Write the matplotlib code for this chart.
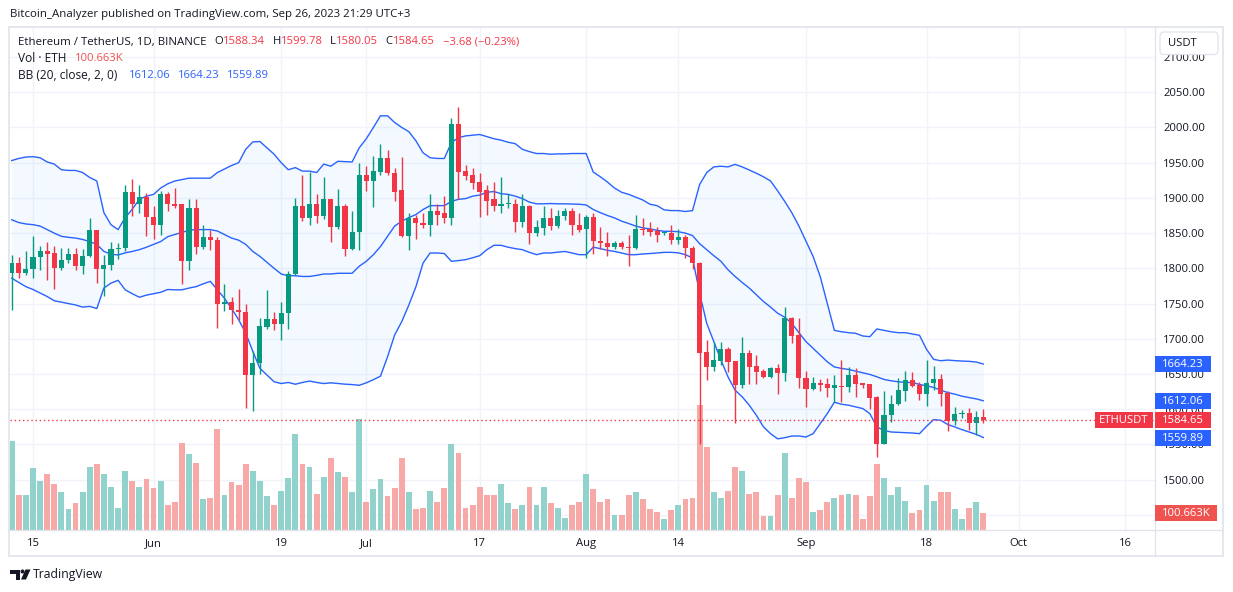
import numpy as np
import pandas as pd
import matplotlib
matplotlib.use('Agg')
import matplotlib.pyplot as plt
import matplotlib.dates as mdates
from matplotlib.patches import Rectangle, FancyBboxPatch, Polygon, Circle
from matplotlib.lines import Line2D
from matplotlib.transforms import IdentityTransform

plt.rcParams['font.family'] = ['Open Sans', 'DejaVu Sans']

# ---------------- data (ETH/USDT daily, from 2023-05-12) ----------------
start_date = '2023-05-12'

opens = [1793, 1807.5, 1794, 1799, 1816, 1824, 1822, 1800, 1812, 1820,
         1804, 1817, 1854, 1799, 1805, 1827, 1829, 1909, 1891, 1901,
         1873, 1861, 1906, 1892, 1891, 1810, 1885, 1831, 1845, 1840,
         1750, 1752.5, 1741, 1737.5, 1648, 1666, 1717, 1728, 1721, 1737,
         1792, 1889, 1871, 1892, 1874, 1899, 1858, 1889, 1827, 1852,
         1933, 1924, 1937, 1956, 1936, 1911, 1845.5, 1871, 1865, 1862,
         1881, 1878, 1871, 2004.6, 1937.6, 1932, 1922, 1910.6, 1898, 1888,
         1891, 1892, 1865.5, 1889, 1850, 1857, 1872, 1860, 1875, 1881,
         1862, 1855.5, 1873.5, 1839, 1836.5, 1830, 1836.5, 1831, 1828.5, 1856.5,
         1855.5, 1852.6, 1850, 1850, 1840, 1845, 1829, 1807.5, 1681, 1660,
         1669, 1685.5, 1669, 1634.7, 1680, 1661, 1654.6, 1646, 1658, 1651.8,
         1729.6, 1705.4, 1645, 1629, 1636.6, 1635.6, 1630.4, 1633.7, 1631.8, 1648.4,
         1637, 1635.6, 1617.6, 1551, 1592.4, 1607, 1626, 1641, 1634, 1622,
         1636.6, 1642.7, 1623.3, 1583.4, 1592.9, 1594.3, 1580.5, 1588.34]

highs = [1819, 1816, 1824, 1846, 1832, 1838, 1832, 1829, 1829, 1829,
         1828, 1872, 1854, 1819, 1838, 1836, 1919, 1927, 1918, 1907,
         1889, 1910, 1908, 1914, 1891, 1898, 1898, 1861, 1855, 1845,
         1778, 1760, 1771, 1750, 1682, 1729, 1769, 1738, 1752, 1796,
         1900, 1933, 1937, 1906, 1930, 1899, 1912, 1891, 1881, 1949,
         1945, 1959.5, 1976, 1967.5, 1942, 1957.6, 1878, 1876, 1879, 1905,
         1892, 1902, 2013, 2029, 1946, 1943, 1936, 1917.7, 1922, 1929.6,
         1906, 1899, 1905, 1890.6, 1869, 1888, 1886, 1883.5, 1886, 1885,
         1878, 1876.4, 1879, 1859, 1851, 1839, 1839, 1847, 1876, 1872,
         1866, 1858, 1852, 1862, 1856, 1848, 1832, 1808.5, 1699, 1696,
         1695.5, 1688, 1669, 1702.6, 1684, 1677, 1656.5, 1660, 1664, 1745,
         1731.5, 1729.6, 1654.6, 1646, 1643, 1645, 1648.4, 1669.8, 1659.8, 1658,
         1637.5, 1636, 1619, 1625.6, 1620, 1644, 1654.6, 1653, 1639, 1669.8,
         1661, 1649.9, 1626, 1602.8, 1599, 1602, 1597.6, 1599.78]

lows = [1741, 1786, 1790, 1786, 1797, 1784, 1771, 1797, 1807, 1798,
        1792, 1816, 1779, 1761, 1797, 1813, 1824, 1874, 1879, 1846,
        1842, 1848, 1882, 1885, 1778, 1797, 1821, 1828, 1826, 1716,
        1739, 1721, 1726, 1602, 1598, 1650, 1714, 1712, 1698, 1714,
        1790, 1867, 1861, 1865, 1870, 1838, 1856, 1817, 1826, 1826,
        1910, 1887, 1933, 1932, 1895, 1844, 1826.5, 1842, 1857, 1846,
        1862, 1865, 1862, 1899, 1926, 1913, 1873.5, 1876, 1882, 1878,
        1886, 1851, 1858, 1834, 1845.5, 1848, 1855, 1857, 1869, 1848,
        1851, 1814, 1821, 1827, 1817, 1828, 1827, 1803, 1827, 1847,
        1845.5, 1838, 1847, 1835, 1835, 1814, 1798.5, 1551, 1642, 1654.6,
        1662.7, 1653, 1580.5, 1630, 1636, 1636, 1644.6, 1645, 1622, 1640,
        1694.5, 1630, 1603, 1628, 1626, 1617.6, 1610.5, 1610.5, 1624.7, 1617.6,
        1630.4, 1601, 1532, 1550, 1582, 1606, 1612, 1631, 1613.3, 1604.7,
        1628, 1604.7, 1569, 1577.7, 1587.2, 1570.5, 1563.4, 1580.05]

closes = [1807.5, 1794, 1799, 1816, 1824, 1821, 1800, 1812, 1820, 1804,
          1818, 1854, 1799, 1805, 1828, 1829, 1909, 1891, 1901, 1873,
          1861, 1906, 1891, 1889, 1810, 1885, 1831, 1845, 1840, 1750,
          1752.5, 1741, 1737.5, 1648, 1666, 1718, 1728, 1721, 1737, 1792,
          1889, 1871, 1892, 1874, 1899, 1858, 1889, 1827, 1852, 1933,
          1924, 1938, 1956, 1935, 1909, 1845.5, 1871, 1864, 1862, 1881,
          1876, 1871, 2004.6, 1937, 1930.5, 1920.6, 1909, 1896, 1888, 1892,
          1892, 1865.5, 1889, 1850, 1858, 1872, 1860, 1875, 1881, 1861,
          1855, 1873.5, 1838.4, 1835.5, 1830, 1836, 1830, 1828.5, 1856.5, 1854,
          1851, 1848, 1851, 1840, 1845, 1828.4, 1807, 1680, 1660, 1670,
          1685.5, 1667.4, 1634.7, 1680, 1660, 1653, 1646, 1658, 1651.8, 1729.6,
          1704.5, 1644.6, 1629, 1636.6, 1634.7, 1630.4, 1634.2, 1631.8, 1648.4, 1636,
          1634.2, 1616, 1551, 1592.4, 1607, 1627, 1641, 1632.8, 1622, 1636.6,
          1642.7, 1622, 1583.4, 1592.9, 1595.3, 1580.5, 1588.34, 1584.65]

# volume in thousands of ETH
volumes_k = [554, 214, 214, 384, 308, 346, 289, 239, 132, 164,
             233, 390, 415, 346, 270, 138, 371, 308, 270, 315,
             264, 308, 151, 170, 541, 478, 421, 189, 195, 635,
             220, 296, 283, 409, 365, 308, 208, 157, 245, 321,
             598, 409, 390, 226, 333, 447, 359, 333, 239, 698,
             176, 252, 315, 208, 264, 447, 233, 126, 138, 245,
             176, 264, 535, 484, 138, 151, 270, 214, 214, 289,
             164, 132, 157, 270, 151, 270, 164, 138, 75, 157,
             170, 352, 252, 170, 189, 94, 94, 220, 233, 189,
             132, 113, 69, 120, 151, 189, 201, 786, 522, 233,
             195, 245, 396, 365, 226, 233, 82, 88, 214, 484,
             201, 327, 296, 107, 120, 170, 201, 220, 226, 220,
             63, 208, 409, 327, 220, 270, 182, 101, 120, 277,
             182, 233, 239, 126, 69, 138, 176, 100.663]

# Bollinger Bands (20, close, 2)
bb_upper = [1953, 1956, 1958, 1958.5, 1957, 1951, 1948, 1940, 1939, 1939,
            1936, 1929, 1924, 1879, 1862, 1855, 1872, 1884, 1898, 1902.5,
            1905, 1914, 1920, 1924, 1926, 1928, 1928, 1928, 1928, 1936,
            1941, 1946, 1950, 1969, 1979.5, 1980, 1971, 1962, 1950, 1940,
            1943, 1938, 1938, 1936, 1948, 1945, 1952, 1951.5, 1951, 1971,
            1984, 2000, 2016.5, 2016.5, 2007, 2000, 1994, 1981, 1964, 1957,
            1956, 1956, 1978.5, 1985.6, 1988, 1989, 1990, 1987, 1984, 1982,
            1979, 1977, 1969, 1965.7, 1963, 1963, 1962, 1962.5, 1962.5, 1963,
            1963, 1963, 1936.7, 1930, 1922.5, 1914, 1908, 1905, 1901, 1897,
            1891, 1889, 1883, 1882, 1882, 1880.7, 1882, 1919, 1936, 1944,
            1945, 1944, 1947.6, 1944, 1939.6, 1935, 1930, 1924, 1910, 1895,
            1879, 1860, 1838.4, 1817, 1788.5, 1750.5, 1712, 1710, 1708.7, 1707.8,
            1704, 1703, 1714, 1712, 1710, 1708.7, 1708.7, 1706.8, 1705, 1685,
            1670.8, 1668.9, 1669.8, 1669, 1668.4, 1668, 1667, 1664.23]

bb_basis = [1869, 1865, 1863, 1862, 1860, 1855, 1850, 1845.5, 1844, 1843,
            1841, 1838, 1834, 1824, 1820, 1819, 1822, 1824, 1826.5, 1830,
            1834, 1838, 1845, 1848, 1851, 1854, 1855, 1855, 1855, 1853,
            1848, 1843, 1840, 1834, 1824, 1817, 1808.5, 1800, 1792, 1789.5,
            1789.5, 1788.5, 1788.5, 1790, 1792, 1792, 1793, 1793, 1793, 1803,
            1810, 1819.4, 1831, 1845.5, 1860, 1867, 1872, 1876.4, 1883.5, 1889,
            1889, 1889, 1895, 1898, 1899, 1902.5, 1904, 1908, 1909, 1906,
            1905, 1902.5, 1899, 1894, 1891.6, 1891.6, 1892, 1891.6, 1891.6, 1891.3,
            1891, 1890, 1883.5, 1879, 1875, 1871.6, 1867, 1863.6, 1860, 1857.4,
            1856, 1854, 1852.6, 1852.6, 1852, 1850, 1846.5, 1835, 1826.5, 1818,
            1810, 1798, 1788.5, 1780, 1772, 1762.4, 1753, 1745, 1736.3, 1730.6,
            1722, 1708.7, 1696, 1686.4, 1677, 1667.4, 1660, 1658, 1656.5, 1654.1,
            1651.8, 1649.4, 1646, 1642.3, 1640.4, 1639, 1638, 1638, 1635.2, 1633.2,
            1631, 1627, 1623.7, 1621.4, 1618.5, 1616.6, 1614.7, 1612.06]

bb_lower = [1786, 1780, 1774, 1770, 1765, 1760, 1754, 1752, 1750, 1748,
            1745, 1746, 1743, 1772, 1779, 1783, 1769.5, 1764, 1759, 1762,
            1764, 1766, 1770, 1769.5, 1769.5, 1772, 1774, 1778, 1781.5, 1769.5,
            1757.5, 1743, 1727, 1708, 1682, 1658, 1648.5, 1639, 1636.5, 1638,
            1635.5, 1638, 1640, 1638, 1636.5, 1637.5, 1636.5, 1635.6, 1635, 1634,
            1637.5, 1642, 1647, 1674.6, 1705.4, 1724.4, 1748, 1774, 1807.5, 1821.8,
            1821.8, 1821, 1810, 1811, 1812.3, 1815, 1818, 1826.5, 1832.7, 1832.7,
            1830, 1828, 1826.5, 1822.7, 1819.4, 1821.8, 1821.8, 1823, 1824, 1821.8,
            1819.4, 1819.4, 1830, 1828, 1825.6, 1824, 1821.8, 1819.4, 1819.4, 1820.4,
            1821, 1821.8, 1822.7, 1822.7, 1822, 1819.4, 1814.7, 1764.8, 1722, 1696,
            1670, 1646, 1627, 1617.6, 1605.7, 1591.4, 1575, 1565.3, 1558, 1559.6,
            1562, 1562, 1560.6, 1565.3, 1579.6, 1593.8, 1610, 1607.1, 1605.7, 1603.3,
            1601, 1593.8, 1574.8, 1570, 1567.7, 1567.2, 1566.8, 1566.3, 1565.3, 1575.8,
            1585.3, 1584.3, 1578.2, 1574.8, 1571, 1567.7, 1564.4, 1559.89]

tick_dates = ['2023-05-15', '2023-06-01', '2023-06-19', '2023-07-01', '2023-07-17',
              '2023-08-01', '2023-08-14', '2023-09-01', '2023-09-18', '2023-10-01',
              '2023-10-16']
tick_labels = ['15', 'Jun', '19', 'Jul', '17', 'Aug', '14', 'Sep', '18', 'Oct', '16']
price_ticks = [1450, 1500, 1550, 1600, 1650, 1700, 1750, 1800, 1850, 1900,
               1950, 2000, 2050, 2100]
hidden_price_labels = [1450]   # covered by the volume tag in the reference

header_text = 'Bitcoin_Analyzer published on TradingView.com, Sep 26, 2023 21:29 UTC+3'
symbol_text = 'Ethereum / TetherUS, 1D, BINANCE'
ohlc_labels = ['O', 'H', 'L', 'C']
ohlc_values = ['1588.34', '1599.78', '1580.05', '1584.65']
change_text = '\u22123.68 (\u22120.23%)'
vol_title = 'Vol \u00b7 ETH'
vol_value = '100.663K'
bb_title = 'BB (20, close, 2, 0)'
bb_values = ['1612.06', '1664.23', '1559.89']

# ---------------- styling ----------------
C_UP, C_DN = '#089981', '#f23645'
V_UP, V_DN = '#92d2cc', '#f7a9a7'
BLUE = '#2962ff'
GRID = '#f0f3fa'
BORDER = '#e0e3eb'
TXT = '#131722'

W, H = 1233, 592
fig = plt.figure(figsize=(W / 100, H / 100), dpi=100)
fig.patch.set_facecolor('white')
ID = IdentityTransform()
renderer = fig.canvas.get_renderer()

L, R, T, B = 9.5, 1155.0, 27.5, 529.5
rect = [L / W, 1 - B / H, (R - L) / W, (B - T) / H]
ax_v = fig.add_axes(rect, zorder=0)
ax = fig.add_axes(rect, zorder=1, sharex=ax_v)
ax.patch.set_visible(False)
ax_v.set_facecolor('white')

dates = pd.date_range(start_date, periods=len(closes), freq='D')
x = mdates.date2num(dates)
o = np.array(opens, float); h = np.array(highs, float)
lo = np.array(lows, float); c = np.array(closes, float)
vol = np.array(volumes_k, float)
up = c >= o

# x scale: first candle at px 11.7, 7.092 px per day
day_px = 7.092
first_px = 11.7
ax_v.set_xlim(x[0] - (first_px - L) / day_px, x[0] + (R - first_px) / day_px)

# y scale: 2100 at px 57, 0.7045 px per USDT
ppu = 0.7045
ax.set_ylim(2100 - (B - 57) / ppu, 2100 + (57 - T) / ppu)
ax_v.set_ylim(0, (B - T) * 6.29)

# grid (drawn on the back axes so it sits behind the volume)
for p in price_ticks:
    ax_v.add_line(Line2D([0, 1], [p, p], transform=ax.get_yaxis_transform(),
                         color=GRID, lw=1, zorder=1))
tick_x = mdates.date2num(pd.to_datetime(tick_dates))
for tx in tick_x:
    ax_v.axvline(tx, color=GRID, lw=1, zorder=1)

# volume
ax_v.bar(x, vol, width=0.82, color=np.where(up, V_UP, V_DN), lw=0, zorder=3)

# Bollinger bands
ax.fill_between(x, bb_lower, bb_upper, color='#2196f3', alpha=0.05, lw=0, zorder=1)
for band in (bb_upper, bb_basis, bb_lower):
    ax.plot(x, band, color=BLUE, lw=1.0, zorder=2)

# candles
cc = np.where(up, C_UP, C_DN)
ax.vlines(x, lo, h, colors=cc, lw=1, zorder=4)
ax.bar(x, np.maximum(np.abs(c - o), 1.5), bottom=np.minimum(o, c), width=0.72,
       color=cc, lw=0, zorder=5)

# last price line
ax.axhline(c[-1], color=C_DN, lw=1, ls=(0, (1, 2)), zorder=6)

# axes cosmetics
for a in (ax, ax_v):
    for s in a.spines.values():
        s.set_visible(False)
ax_v.set_yticks([])
ax_v.tick_params(axis='x', bottom=False, labelbottom=False)
ax.yaxis.tick_right()
ax.set_yticks(price_ticks)
ax.set_yticklabels(['' if p in hidden_price_labels else f'{p:.2f}' for p in price_ticks])
ax.tick_params(axis='y', length=0, pad=5.8, labelsize=8.1, labelcolor=TXT)
ax.set_xticks(tick_x)
ax.set_xticklabels(tick_labels)
ax.tick_params(axis='x', length=0, pad=6.2, labelsize=8.1, labelcolor=TXT)


def P(xp, yp):
    return (xp, H - yp)


def ftext(xp, yp, s, color=TXT, size=9.0, ha='left', fit=None, z=12, **kw):
    t = fig.text(*P(xp, yp), s, transform=ID, color=color, fontsize=size,
                 ha=ha, va='center', zorder=z, **kw)
    if fit:
        w = t.get_window_extent(renderer).width
        t.set_fontsize(size * fit / w)
    return t


# frame lines
fig.add_artist(Rectangle(P(9, 556), 1214, 529, transform=ID, fill=False,
                         ec=BORDER, lw=1.2, zorder=9))
fig.add_artist(Line2D([9, 1223], [H - 529.5, H - 529.5], transform=ID,
                      color=BORDER, lw=0.9, zorder=9))
fig.add_artist(Line2D([1155, 1155], [H - 27, H - 556], transform=ID,
                      color=BORDER, lw=0.9, zorder=9))


# price-scale labels
def price_y(val, a=ax):
    return H - a.transData.transform((x[0], val))[1]


def tag(y_px, text, color, x0=1155, x1=1211):
    fig.add_artist(Rectangle(P(x0, y_px + 8), x1 - x0, 16, transform=ID,
                             fc=color, ec='none', zorder=10))
    ftext((x0 + x1) / 2, y_px + 0.5, text, color='white', size=8.1, ha='center', z=11)


tag(price_y(bb_upper[-1]), f'{bb_upper[-1]:.2f}', BLUE)
tag(price_y(bb_basis[-1]), f'{bb_basis[-1]:.2f}', BLUE)
tag(price_y(bb_lower[-1]), f'{bb_lower[-1]:.2f}', BLUE)
tag(price_y(c[-1]), f'{c[-1]:.2f}', C_DN)
tag(price_y(c[-1]), 'ETHUSDT', C_DN, 1095, 1153)
tag(price_y(vol[-1], ax_v), vol_value, '#ef5350', 1155, 1217)

# USDT unit box
fig.add_artist(FancyBboxPatch(P(1160, 54.5), 58, 22.5, boxstyle='round,pad=0,rounding_size=4',
                              transform=ID, fc='white', ec=BORDER, lw=0.9, zorder=10))
ftext(1168, 43.5, 'USDT', size=8.1, z=11)

# header
ftext(10.5, 14, header_text, color=TXT, size=9.0, fit=402)

# legend lines
LS = 8.1
ftext(18, 42, symbol_text, size=LS, fit=188)
for lab, val, lx, vx in zip(ohlc_labels, ohlc_values, [214, 272.7, 330, 385.3],
                            [223.3, 280.7, 336, 392.7]):
    ftext(lx, 42, lab, size=LS)
    ftext(vx, 42, val, color=C_DN, size=LS)
ftext(443.3, 42, change_text, color=C_DN, size=LS)
ftext(18, 58.7, vol_title, size=8.6)
ftext(75, 58.7, vol_value, color='#ef5350', size=LS)
ftext(18, 75.3, bb_title, size=8.6)
for v, vx in zip(bb_values, [129, 178.3, 227.3]):
    ftext(vx, 75.3, v, color=BLUE, size=LS)

# TradingView footer logo + text
fig.add_artist(Polygon([P(10, 569.5), P(19.5, 569.5), P(19.5, 579.5), P(15.5, 579.5),
                        P(15.5, 573.5), P(10, 573.5)], closed=True, transform=ID,
                       fc=TXT, ec='none', zorder=12))
fig.add_artist(Circle(P(22.5, 571.5), 2.0, transform=ID, fc=TXT, ec='none', zorder=12))
fig.add_artist(Polygon([P(25.5, 569.5), P(30.5, 569.5), P(26.0, 579.5), P(21.0, 579.5)],
                       closed=True, transform=ID, fc=TXT, ec='none', zorder=12))
ftext(33, 574.5, 'TradingView', color=TXT, size=10, fit=70)

fig.savefig('out.png', dpi=100, facecolor='white')
